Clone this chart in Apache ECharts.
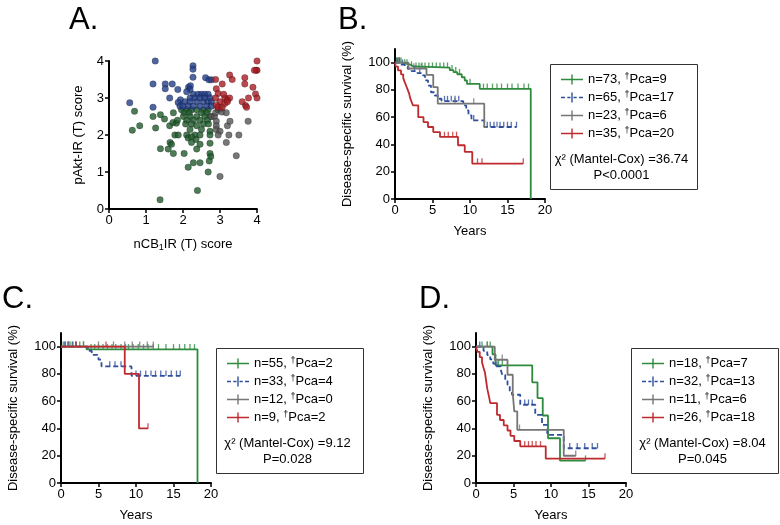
<!DOCTYPE html>
<html><head><meta charset="utf-8">
<script src="https://cdn.jsdelivr.net/npm/echarts@6/dist/echarts.min.js"></script>
<style>html,body{margin:0;padding:0;background:#fff}#c{width:780px;height:525px}</style>
</head><body><div id="c"></div>
<script>
// ---------- Panel A: scatter (nCB1IR score, pAkt-IR score) ----------
const aBlue = [[0.56,2.87],[1.25,4.0],[1.19,3.38],[1.19,2.75],[1.52,3.38],[1.52,3.25],[1.71,3.38],[1.64,3.0],[1.86,3.23],[1.93,2.95],[2.15,3.29],[2.2,3.33],[2.27,3.87],[2.27,3.78],[2.27,3.56],[2.61,3.55],[2.7,3.49],[2.77,3.49],[2.19,3.23],[2.1,3.17],
  [2.28,3.1],[2.41,3.1],[2.5,3.1],[2.59,3.1],[2.68,3.1],
  [2.19,3.0],[2.32,3.0],[2.46,3.0],[2.59,3.0],[2.73,3.0],
  [1.87,2.88],[2.05,2.9],[2.19,2.9],[2.37,2.9],[2.55,2.9],[2.68,2.9],[2.77,2.9],
  [1.92,2.78],[2.0,2.78],[2.14,2.78],[2.28,2.78],[2.46,2.78],[2.64,2.78],[2.77,2.78]];
const aGreen = [[0.69,2.64],[0.63,2.13],[0.83,2.25],[1.19,2.5],[1.26,2.19],[1.39,2.55],[1.5,2.43],[1.39,1.63],[1.38,0.25],[1.64,2.25],[1.73,2.34],[1.82,2.32],
  [1.96,2.68],[2.1,2.68],[2.23,2.68],[2.37,2.68],[2.55,2.68],[2.68,2.68],
  [1.74,2.6],[2.03,2.6],[2.17,2.6],[2.5,2.6],[2.64,2.6],
  [2.01,2.5],[2.19,2.5],[2.37,2.5],[2.59,2.5],[2.75,2.5],
  [1.85,2.4],[2.1,2.4],[2.28,2.4],[2.46,2.4],[2.66,2.4],
  [2.07,2.3],[2.23,2.3],[2.55,2.3],[2.69,2.3],[2.37,2.25],
  [2.19,2.15],[2.5,2.15],[2.73,2.1],
  [1.78,2.0],[1.87,2.0],[2.1,2.0],[2.32,2.0],[2.46,2.0],[2.73,2.0],
  [2.14,1.92],[2.23,1.95],[2.35,1.88],
  [1.65,1.8],[2.23,1.8],[2.73,1.78],[1.69,1.75],[2.46,1.75],
  [1.6,1.62],[2.37,1.62],[1.74,1.5],[2.03,1.5],[2.73,1.5],[2.75,1.42],[2.71,1.3],
  [2.28,1.25],[2.46,1.25],[2.14,1.13],[2.68,1.0],[2.39,0.5]];
const aGray = [[2.77,2.5],[2.85,2.5],[2.88,2.6],[2.95,2.68],[3.0,2.7],[3.05,2.62],[2.9,2.37],[2.9,2.25],[2.9,2.15],[3.0,2.1],[2.95,2.0],[3.17,2.6],[3.2,2.25],[3.17,1.8],[3.24,2.0],[3.27,2.37],[3.51,2.0],[3.76,2.37],[3.44,1.44],[3.0,0.88]];
const aRed = [[2.88,3.5],[3.06,3.38],[2.9,3.25],[2.95,3.12],[2.88,3.0],[3.0,2.9],[2.9,2.8],[2.95,2.75],[3.06,2.75],[3.13,2.85],[3.2,2.95],[3.26,3.0],[3.13,3.0],[3.2,2.9],[3.1,3.1],[3.26,3.62],[3.33,3.5],[3.67,3.55],[3.67,3.38],[3.89,3.29],[3.96,3.11],[3.77,3.0],[3.69,2.8],[3.72,2.75],[3.6,2.9],[4.0,4.0],[3.98,3.75],[4.0,3.75],[3.93,3.75],[4.0,3.0]];

// ---------- Panel B: KM steps [years, survival %] ----------
const bGreen = [[0,100],[1.0,98.6],[2.0,97.2],[2.5,96.3],[7.3,94.5],[7.8,93],[8.3,91.5],[8.9,89.3],[9.3,86.9],[9.6,84.4],[11.3,80.8],[18.1,0]];
const bBlue = [[0,100],[0.8,98.5],[1.3,97],[1.7,95.4],[2.2,93.8],[3.0,92.3],[3.6,90.7],[4.0,87],[4.4,83.2],[4.8,78.3],[5.3,75.9],[5.7,73.5],[6.2,71.8],[9.1,68.6],[9.5,65],[9.8,61.3],[10.2,57.7],[11.9,52.8],[16.2,52.8]];
const bGray = [[0,100],[1.8,95.7],[4.2,91],[5.1,82],[5.7,70],[11.9,52.8],[12.2,52.8]];
const bRed = [[0,100],[0.1,97.1],[0.4,94.3],[0.8,91.4],[1.1,88.6],[1.3,85.7],[1.5,82.9],[1.7,80],[1.9,77.1],[2.0,74.3],[2.2,71.4],[2.4,68.6],[3.1,60],[3.8,56.4],[4.4,52.8],[5.1,49.1],[6.0,45.5],[8.4,39.4],[9.3,34.5],[10.3,26],[17.1,26]];
const bGreenCens = [0.2,0.4,0.6,0.8,1.3,1.6,2.2,2.8,3.2,3.6,4.0,4.5,5.0,5.5,6.0,6.5,7.0,7.6,8.1,8.6,10.0,11.8,12.3,13.0,13.6,14.2,15.0,15.6,16.4,17.2,17.8];
const bBlueCens = [0.3,0.6,1.0,2.6,3.3,6.6,7.0,7.5,8.0,8.5,10.5,12.3,12.7,13.2,13.6,14.0,14.5,15.0,15.5,16.2];
const bGrayCens = [0.5,2.5,3.5,8.0,10.5];
const bRedCens = [6.6,7.1,7.7,8.2,11.0,11.6,17.1];

// ---------- Panel C ----------
const cGreen = [[0,100],[3.4,98],[18.2,0]];
const cBlue = [[0,100],[3.6,97],[4.1,94],[5.0,90.5],[5.4,85.5],[9.4,78.6],[15.9,78.6]];
const cGray = [[0,100],[12.3,100]];
const cRed = [[0,100],[8.5,80],[10.4,40],[11.6,40]];
const cGreenCens = [0.3,0.6,0.9,1.2,1.6,2.0,2.5,3.0,4.0,4.5,5.0,5.6,6.2,6.8,7.3,8.0,8.6,9.0,9.6,10.3,11.0,11.6,12.3,13.0,14.0,15.0,15.8,16.5,17.2,17.8];
const cBlueCens = [0.5,1.0,1.5,2.0,6.5,7.2,8.0,10.0,10.6,11.3,12.0,12.6,13.3,14.0,14.7,15.4,15.9];
const cGrayCens = [1.0,3.0,5.0,7.0,8.5,9.5,10.5,11.5,12.3];
const cRedCens = [2.0,6.0,11.6];

// ---------- Panel D ----------
const dGreen = [[0,100],[2.2,94.4],[2.6,86.3],[7.5,73.8],[8.2,62.3],[8.9,49.5],[9.6,32.8],[11.2,16.4],[14.6,16.4]];
const dBlue = [[0,100],[1.0,96.9],[1.5,93.8],[1.9,90.6],[2.3,87.5],[2.6,85.5],[3.3,83],[3.5,79.4],[3.9,75.7],[4.2,72.1],[4.5,67.2],[4.8,64.7],[5.9,57.4],[7.9,50],[8.8,42.6],[9.5,35.3],[11.7,25.5],[16.2,25.5]];
const dGray = [[0,100],[2.5,90.4],[4.2,79.4],[4.9,65.9],[5.1,52.5],[5.5,39],[11.7,20],[13.3,20]];
const dRed = [[0,100],[0.2,96.2],[0.5,92.3],[0.8,88.5],[1.0,84.6],[1.2,80.8],[1.3,76.9],[1.4,73.1],[1.5,69.2],[1.65,65.4],[1.8,61.5],[1.9,58.6],[2.8,50],[3.2,46.2],[3.7,42.3],[4.2,38.5],[4.6,34.6],[5.1,30.8],[5.9,26.9],[9.3,17.9],[17.2,17.9]];
const dGreenCens = [0.8,1.5,1.9,3.0,3.5,14.6];
const dBlueCens = [0.5,2.8,6.5,7.0,7.5,12.5,13.5,14.5,15.5,16.2];
const dGrayCens = [1.5,3.5,5.8,13.3];
const dRedCens = [6.5,7.0,7.5,8.0,8.6,17.2];

// ---------- Labels ----------
const bNames = ['n=73, †Pca=9','n=65, †Pca=17','n=23, †Pca=6','n=35, †Pca=20'];
const cNames = ['n=55, †Pca=2','n=33, †Pca=4','n=12, †Pca=0','n=9, †Pca=2'];
const dNames = ['n=18, †Pca=7','n=32, †Pca=13','n=11, †Pca=6','n=26, †Pca=18'];
const bStats = ['χ² (Mantel-Cox) =36.74','P<0.0001'];
const cStats = ['χ² (Mantel-Cox) =9.12','P=0.028'];
const dStats = ['χ² (Mantel-Cox) =8.04','P=0.045'];
const yTicksKM = [0,20,40,60,80,100];

const FF = '"Liberation Sans", Arial, sans-serif';
const kmCol = ['#2e8b3e','#2f4f9d','#767676','#bf2a2e'];
const scCol = {green:'#1f5a2c', blue:'#233e88', gray:'#555555', red:'#a81e24'};

const ICON_SOLID = 'path://M0,4.3H22V5.7H0Z M10.3,0H11.7V10H10.3Z';
const ICON_DASH = 'path://M0,4.3H4V5.7H0Z M6.3,4.3H9.5V5.7H6.3Z M12.5,4.3H15.7V5.7H12.5Z M18,4.3H22V5.7H18Z M10.3,0H11.7V10H10.3Z';

function stepAt(data, t) {
  let v = data[0][1];
  for (const p of data) { if (p[0] <= t) v = p[1]; else break; }
  return v;
}

const axisLineStyle = {show:true, onZero:false, lineStyle:{color:'#000', width:2}};
const tickStyle = {show:true, inside:false, length:4, lineStyle:{color:'#000', width:1.5}};
const labelStyle = {color:'#000', fontSize:13, fontFamily:FF, margin:5};
const nameStyle = {color:'#000', fontSize:13, fontFamily:FF};

const grids = [
  {left:109, top:61, width:148, height:148},
  {left:395, top:49, width:150, height:150},
  {left:61, top:333, width:150, height:150},
  {left:476, top:333, width:150, height:150}
];

const xAxes = [
  {gridIndex:0, type:'value', min:0, max:4, interval:1, axisLine:axisLineStyle, axisTick:tickStyle, axisLabel:labelStyle, splitLine:{show:false},
   name:'nCB{sub|1}IR (T) score', nameLocation:'middle', nameGap:27,
   nameTextStyle:Object.assign({lineHeight:16, rich:{sub:{fontSize:9, lineHeight:9, verticalAlign:'bottom', fontFamily:FF, color:'#000'}}}, nameStyle)}
];
const yAxes = [
  {gridIndex:0, type:'value', min:0, max:4, interval:1, axisLine:axisLineStyle, axisTick:tickStyle, axisLabel:labelStyle, splitLine:{show:false},
   name:'pAkt-IR (T) score', nameLocation:'middle', nameGap:24, nameTextStyle:nameStyle}
];
for (let g = 1; g <= 3; g++) {
  xAxes.push({gridIndex:g, type:'value', min:0, max:20, interval:5, axisLine:axisLineStyle, axisTick:tickStyle, axisLabel:labelStyle, splitLine:{show:false},
    name:'Years', nameLocation:'middle', nameGap:26, nameTextStyle:nameStyle});
  yAxes.push({gridIndex:g, type:'value', min:0, max:110, interval:20, axisLine:axisLineStyle,
    axisTick:Object.assign({customValues:yTicksKM}, tickStyle),
    axisLabel:Object.assign({customValues:yTicksKM}, labelStyle), splitLine:{show:false},
    name:'Disease-specific survival (%)', nameLocation:'middle', nameGap:41, nameTextStyle:nameStyle});
}

const series = [];
[['green',aGreen],['blue',aBlue],['gray',aGray],['red',aRed]].forEach(([k, d]) => {
  series.push({type:'scatter', name:'A-'+k, xAxisIndex:0, yAxisIndex:0, data:d, symbol:'circle', symbolSize:6.5,
    itemStyle:{color:scCol[k], borderColor:'rgba(0,0,0,0.45)', borderWidth:0.6}, silent:true, animation:false});
});

function addKM(g, names, curves, cens) {
  curves.forEach((d, i) => {
    series.push({type:'line', name:names[i], xAxisIndex:g, yAxisIndex:g, data:d, step:'end', symbol:'none', showSymbol:false,
      lineStyle:{color:kmCol[i], width:1.8, type: i === 1 ? [5,3] : 'solid'}, itemStyle:{color:kmCol[i]}, animation:false, silent:true, z:2+i});
    series.push({type:'scatter', name:names[i]+' censored', xAxisIndex:g, yAxisIndex:g,
      data:cens[i].map(t => [t, stepAt(d, t)]), symbol:'rect', symbolSize:[1.3,5.5], symbolOffset:[0,-2.5],
      itemStyle:{color:kmCol[i]}, animation:false, silent:true, z:2+i});
  });
}
addKM(1, bNames, [bGreen,bBlue,bGray,bRed], [bGreenCens,bBlueCens,bGrayCens,bRedCens]);
addKM(2, cNames, [cGreen,cBlue,cGray,cRed], [cGreenCens,cBlueCens,cGrayCens,cRedCens]);
addKM(3, dNames, [dGreen,dBlue,dGray,dRed], [dGreenCens,dBlueCens,dGrayCens,dRedCens]);

function mkLegend(names, left, top) {
  return {show:true, orient:'vertical', left:left, top:top, itemWidth:22, itemHeight:10, itemGap:3, padding:0, selectedMode:false,
    data:names.map((n, i) => ({name:n, icon: i === 1 ? ICON_DASH : ICON_SOLID})),
    itemStyle:{borderWidth:0}, lineStyle:{width:0},
    formatter: n => n.replace('†', '{s|†}'),
    textStyle:{color:'#000', fontSize:13, fontFamily:FF, lineHeight:15,
      rich:{s:{fontSize:9, lineHeight:9, verticalAlign:'top', fontFamily:FF, color:'#000'}}}};
}

function statTitle(lines, cx, top) {
  return {text:lines.join('\n'), left:cx, top:top, textAlign:'center', padding:0,
    textStyle:{color:'#000', fontSize:13, fontWeight:'normal', fontFamily:FF, lineHeight:16}};
}
function panelTitle(t, left, top) {
  return {text:t, left:left, top:top, padding:0, textStyle:{color:'#000', fontSize:31, fontWeight:'normal', fontFamily:FF}};
}

const boxes = [[548,62],[214,346],[629,346]];

const option = {
  animation:false,
  backgroundColor:'#fff',
  title:[
    panelTitle('A.', 69, 5), panelTitle('B.', 338, 5), panelTitle('C.', 2, 284), panelTitle('D.', 419, 284),
    statTitle(bStats, 621.5, 151), statTitle(cStats, 287.5, 435), statTitle(dStats, 702.5, 435)
  ],
  grid:grids,
  xAxis:xAxes,
  yAxis:yAxes,
  legend:[mkLegend(bNames, 561, 72), mkLegend(cNames, 227, 356), mkLegend(dNames, 642, 356)],
  graphic:boxes.map(([x, y]) => ({type:'rect', left:x, top:y, shape:{x:0, y:0, width:147, height:125}, style:{fill:'none', stroke:'#333', lineWidth:1}, silent:true})),
  series:series
};

const chart = echarts.init(document.getElementById('c'), null, {renderer:'canvas'});
chart.setOption(option);
</script></body></html>
